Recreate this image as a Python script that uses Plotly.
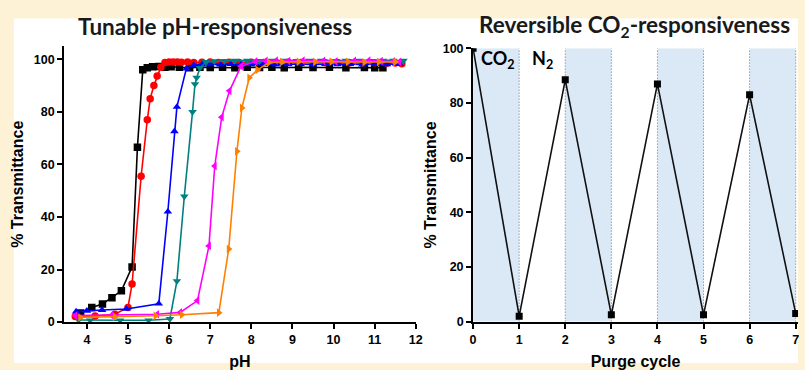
import plotly.graph_objects as go

# ---------------- data: left panel (pH responsiveness) ----------------
ph_black = [3.85, 4.12, 4.38, 4.61, 4.84, 5.10, 5.23, 5.36, 5.47, 5.60, 5.75, 5.90, 6.05, 6.25,
            6.50, 6.75, 7.00, 7.30, 7.60, 7.90, 8.20, 8.50, 8.80, 9.15, 9.50, 9.90, 10.30,
            10.75, 11.00, 11.20]
t_black = [3.5, 5.6, 6.9, 9.3, 11.9, 21.0, 66.5, 96.0, 96.8, 97.2, 97.3, 97.0, 97.2, 97.0,
           96.8, 97.0, 96.9, 97.0, 96.8, 97.0, 96.9, 97.0, 96.8, 97.0, 96.9, 97.0, 96.8,
           96.9, 96.8, 96.8]

ph_red = [3.72, 4.20, 4.68, 5.00, 5.10, 5.32, 5.47, 5.54, 5.63, 5.71, 5.80, 5.90, 6.00, 6.10,
          6.20, 6.30, 6.45, 6.60, 6.80, 7.00, 7.20, 7.45, 7.70, 8.00, 8.30, 8.60, 8.90, 9.20,
          9.50, 9.80, 10.10, 10.40, 10.70, 11.00, 11.30, 11.50, 11.66]
t_red = [2.1, 2.3, 3.0, 5.6, 14.5, 55.5, 77.0, 85.0, 90.0, 93.7, 97.0, 98.8, 99.0, 99.0,
         99.0, 98.9, 99.0, 98.8, 98.9, 99.0, 98.8, 98.9, 98.8, 98.9, 98.8, 98.8, 98.9, 98.8,
         98.8, 98.7, 98.8, 98.7, 98.6, 98.7, 98.5, 98.6, 98.3]

ph_blue = [3.74, 4.00, 4.37, 4.96, 5.75, 5.97, 6.13, 6.19, 6.42, 6.60, 6.80, 7.00, 7.25, 7.50,
           7.75, 8.00, 8.30, 8.60, 8.90, 9.20, 9.50, 9.80, 10.10, 10.40, 10.70, 11.00, 11.30,
           11.60]
t_blue = [4.0, 4.3, 4.6, 5.0, 7.0, 42.0, 72.6, 81.9, 96.5, 97.8, 98.0, 98.1, 98.0, 98.2,
          98.0, 98.1, 98.2, 98.0, 98.1, 98.2, 98.0, 98.2, 98.1, 98.2, 98.0, 98.2, 98.1,
          98.2]

ph_teal = [3.80, 4.08, 4.81, 5.50, 6.02, 6.19, 6.37, 6.57, 6.63, 6.67, 6.75, 6.90, 7.10, 7.35,
           7.60, 7.90, 8.20, 8.50, 8.80, 9.10, 9.40, 9.70, 10.00, 10.30, 10.60, 10.90, 11.20,
           11.45, 11.70]
t_teal = [0.8, 0.7, 0.7, 0.7, 1.2, 15.6, 47.8, 80.0, 90.6, 93.0, 96.7, 99.0, 99.3, 99.4,
          99.5, 99.5, 99.4, 99.5, 99.5, 99.4, 99.5, 99.5, 99.4, 99.5, 99.5, 99.4, 99.5,
          99.5, 99.5]

ph_mag = [3.72, 4.60, 5.71, 6.27, 6.69, 6.97, 7.11, 7.28, 7.47, 7.75, 8.10, 8.35, 8.60, 8.90,
          9.25, 9.75, 10.05, 10.50, 10.85, 11.15, 11.45, 11.60]
t_mag = [2.5, 2.6, 3.0, 3.7, 8.2, 29.0, 59.4, 78.0, 88.0, 97.4, 99.2, 99.4, 99.5, 99.3,
         99.5, 99.4, 99.2, 99.4, 99.5, 99.3, 99.2, 99.0]

ph_orange = [3.84, 4.68, 5.67, 6.31, 7.21, 7.45, 7.65, 7.77, 7.95, 8.15, 8.43, 8.75, 9.15,
             9.55, 9.95, 10.35, 10.75, 11.10, 11.50]
t_orange = [1.8, 2.0, 2.4, 2.8, 3.6, 27.8, 65.0, 81.5, 93.0, 96.0, 98.8, 99.0, 99.1,
            99.0, 99.1, 99.0, 98.9, 99.0, 99.0]

# ---------------- data: right panel (CO2 cycles) ----------------
cycle = [0, 1, 2, 3, 4, 5, 6, 7]
t_cycle = [100, 2.0, 88.5, 2.5, 87.0, 2.5, 83.0, 3.0]
co2_spans = [(0, 1), (2, 3), (4, 5), (6, 7)]
dotted_x = [1, 2, 3, 4, 5, 6, 7]

W, H = 805, 370


def px(xp):
    return xp / W


def py(yp):
    return (H - yp) / H


fig = go.Figure()

series = [
    (ph_black, t_black, "#000000", "square"),
    (ph_red, t_red, "#FF0000", "circle"),
    (ph_blue, t_blue, "#0000FF", "triangle-up"),
    (ph_teal, t_teal, "#008080", "triangle-down"),
    (ph_mag, t_mag, "#FF00FF", "triangle-left"),
    (ph_orange, t_orange, "#FF8000", "triangle-right"),
]
for xs, ys, col, sym in series:
    fig.add_trace(go.Scatter(
        x=xs, y=ys, mode="lines+markers", xaxis="x", yaxis="y",
        line=dict(color=col, width=1.6),
        marker=dict(color=col, symbol=sym, size=7.5, line=dict(width=0)),
        showlegend=False, hoverinfo="skip"))

fig.add_trace(go.Scatter(
    x=cycle, y=t_cycle, mode="lines+markers", xaxis="x2", yaxis="y2",
    line=dict(color="#111111", width=1.6),
    marker=dict(color="#000000", symbol="square", size=7),
    showlegend=False, hoverinfo="skip"))

shapes = [
    dict(type="rect", xref="paper", yref="paper", x0=px(11), x1=1, y0=0, y1=py(12),
         fillcolor="white", line=dict(width=0), layer="below"),
]
for a, b in co2_spans:
    shapes.append(dict(type="rect", xref="x2", yref="y2", x0=a, x1=b, y0=0, y1=100,
                       fillcolor="#DBE9F7", line=dict(width=0), layer="below"))
for xv in dotted_x:
    shapes.append(dict(type="line", xref="x2", yref="y2", x0=xv, x1=xv, y0=0, y1=100,
                       line=dict(color="#6F6F6F", width=1, dash="1px,2px"), layer="below"))

tickfont = dict(family="Liberation Sans, Arial", size=12.5, color="black", weight="bold")
titlefont = dict(family="Liberation Sans, Arial", size=16, color="black", weight="bold")
axcommon = dict(showline=True, linecolor="black", linewidth=2, ticks="outside", ticklen=5,
                tickwidth=2, tickcolor="black", showgrid=False, zeroline=False,
                tickfont=tickfont, title_font=titlefont)

fig.update_layout(
    width=W, height=H, margin=dict(l=0, r=0, t=0, b=0),
    paper_bgcolor="#FDF2D6", plot_bgcolor="rgba(0,0,0,0)",
    shapes=shapes,
    xaxis=dict(domain=[px(62), px(418)], range=[3.45, 12.0], tickvals=list(range(4, 13)),
               anchor="y", title=dict(text="pH", standoff=10), **axcommon),
    yaxis=dict(domain=[py(327.5), py(41)], range=[0, 104.9], tickvals=[0, 20, 40, 60, 80, 100],
               anchor="x", title=dict(text="% Transmittance", standoff=6), **axcommon),
    xaxis2=dict(domain=[px(476), 1.0], range=[0, 7.05], tickvals=list(range(0, 8)),
                anchor="y2", title=dict(text="Purge cycle", standoff=10), **axcommon),
    yaxis2=dict(domain=[py(327), py(43)], range=[0, 100], tickvals=[0, 20, 40, 60, 80, 100],
                anchor="x2", title=dict(text="% Transmittance", standoff=2), **axcommon),
    annotations=[
        dict(text="Tunable pH-responsiveness", xref="paper", yref="paper", x=px(215), y=py(20),
             xanchor="center", yanchor="middle", showarrow=False,
             font=dict(family="Lato", size=22.5, color="#1a1a1a", weight="bold")),
        dict(text="Reversible CO<sub>2</sub>-responsiveness", xref="paper", yref="paper",
             x=px(639), y=py(20), xanchor="center", yanchor="middle", showarrow=False,
             font=dict(family="Lato", size=22.5, color="#1a1a1a", weight="bold")),
        dict(text="CO<sub>2</sub>", xref="paper", yref="paper", x=px(482), y=py(55),
             xanchor="left", yanchor="middle", showarrow=False,
             font=dict(family="Lato", size=18, color="black", weight="bold")),
        dict(text="N<sub>2</sub>", xref="paper", yref="paper", x=px(534), y=py(55),
             xanchor="left", yanchor="middle", showarrow=False,
             font=dict(family="Lato", size=18, color="black", weight="bold")),
    ],
)

fig.write_html("out.html")
